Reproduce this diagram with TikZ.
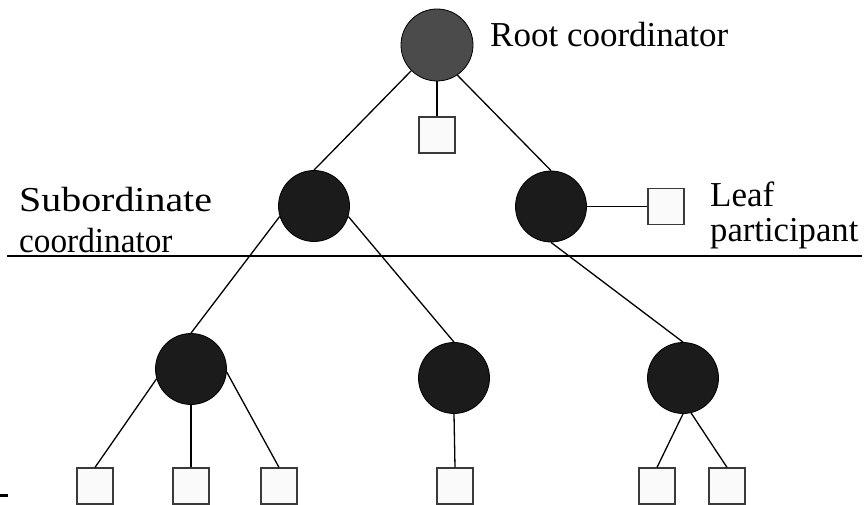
\documentclass[tikz,border=0pt]{standalone}
\usepackage{fontspec}
\usepackage{graphicx}
\setmainfont{Liberation Serif}
\definecolor{rootfill}{HTML}{4B4B4B}
\definecolor{darkfill}{HTML}{1B1B1B}
\definecolor{boxfill}{HTML}{FAFAFA}
\definecolor{boxline}{HTML}{3A3A3A}
\begin{document}
\begin{tikzpicture}[x=1pt,y=-1pt,
  coord/.style={circle, draw=black, line width=0.8pt, fill=darkfill, minimum size=71pt, inner sep=0pt},
  leafbox/.style={rectangle, draw=boxline, line width=1.2pt, fill=boxfill, minimum size=36pt, inner sep=0pt},
  link/.style={draw=black, line width=1.3pt},
  lbl/.style={anchor=base west, inner sep=0pt, font=\fontsize{35}{40}\selectfont}]
\clip (0,0) rectangle (865,505);
\fill[white] (0,0) rectangle (865,505);
% coordinators
\node[coord, fill=rootfill, minimum size=72pt] (root) at (437,45) {};
\node[coord] (subL) at (314,206) {};
\node[coord] (subR) at (551,206.5) {};
\node[coord] (bl) at (191,369) {};
\node[coord] (bm) at (454,378) {};
\node[coord] (br) at (683,378) {};
% participants
\node[leafbox] (rootbox) at (437,135) {};
\node[leafbox] (leafR) at (666,206.5) {};
\node[leafbox] (b1) at (95,486) {};
\node[leafbox] (b2) at (191,486) {};
\node[leafbox] (b3) at (279,486) {};
\node[leafbox] (b4) at (455,486) {};
\node[leafbox] (b5) at (657,486) {};
\node[leafbox] (b6) at (727,486) {};
% connectors
\draw[link] (root.225) -- (subL.north);
\draw[link] (root.304) -- (subR.north);
\draw[link] (root.south) -- (rootbox.north);
\draw[link] (subR.east) -- (leafR.west);
\draw[link] (subL.197) -- (bl.north);
\draw[link] (subL.343) -- (bm.north);
\draw[link] (subR.south) -- (br.north);
\draw[link] (bl.196) -- (b1.north);
\draw[link] (bl.south) -- (b2.north);
\draw[link] (bl.355) -- (b3.north);
\draw[link] (bm.south) -- (b4.north);
\draw[link] (br.south) -- (b5.north);
\draw[link] (br.283) -- (b6.north);
% divider
\coordinate (divL) at (7,256);
\coordinate (divR) at (862,256);
\draw[line width=2pt] (divL) -- (divR);
\coordinate (dashL) at (0,495.5);
\coordinate (dashR) at (8,495.5);
\draw[line width=2.5pt] (dashL) -- (dashR);
% labels
\node[lbl] (tRoot) at (490,47) {Root coordinator};
\node[lbl] (tSub1) at (19,212) {\scalebox{1.14}[1]{Subordinate}};
\node[lbl] (tSub2) at (19,253) {\scalebox{0.95}[1]{coordinator}};
\node[lbl] (tLeaf1) at (710,207) {Leaf};
\node[lbl] (tLeaf2) at (710,242) {\scalebox{0.99}[1]{participant}};
\end{tikzpicture}
\end{document}
